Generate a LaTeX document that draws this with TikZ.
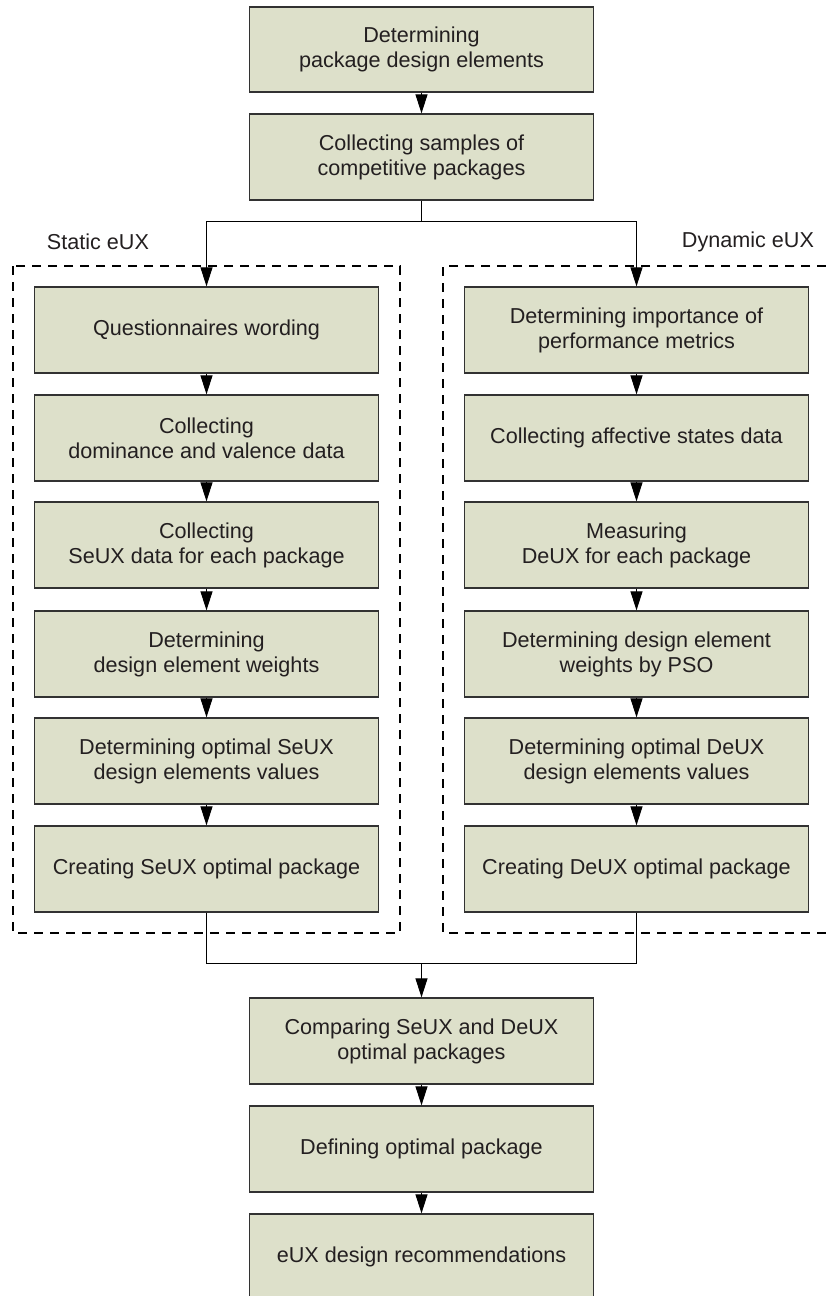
\documentclass[tikz,border=0pt]{standalone}
\usepackage{fontspec}
\setmainfont{Liberation Sans}
\usetikzlibrary{arrows.meta}
\definecolor{boxfill}{RGB}{221,224,202}
\definecolor{boxline}{RGB}{50,50,50}
\definecolor{txt}{RGB}{35,31,32}
\tikzset{
  x=1pt, y=-1pt,
  stepbox/.style={draw=boxline, line width=1.3pt, fill=boxfill, text=txt,
    minimum width=344pt, minimum height=86pt, inner sep=0pt, align=center,
    font=\fontsize{21.6pt}{25pt}\selectfont},
  flow/.style={draw=black, line width=1pt, -{Triangle[length=19pt,width=12pt]}},
  link/.style={draw=black, line width=1pt},
  groupline/.style={draw=black, line width=1.5pt, dash pattern=on 9pt off 7pt},
  grouplabel/.style={text=txt, font=\fontsize{21.6pt}{25pt}\selectfont, inner sep=0pt}
}
\begin{document}
\begin{tikzpicture}
\useasboundingbox (0,0) rectangle (825,1296);
% group frames
\draw[groupline] (13,266) rectangle (400,933);
\draw[groupline] (826,266) -- (443,266) -- (443,933) -- (826,933);
\node[grouplabel] (lstatic) at (98,242) {Static eUX};
\node[grouplabel] (ldynamic) at (748,242) {Dynamic eUX};
% top boxes
\node[stepbox, minimum height=85pt] (t1) at (421.5,49.5) {Determining\\package design elements};
\node[stepbox] (t2) at (421.5,157) {Collecting samples of\\competitive packages};
% left column
\node[stepbox] (l1) at (206.5,330) {Questionnaires wording};
\node[stepbox] (l2) at (206.5,438) {Collecting\\dominance and valence data};
\node[stepbox] (l3) at (206.5,545) {Collecting\\SeUX data for each package};
\node[stepbox] (l4) at (206.5,654) {Determining\\design element weights};
\node[stepbox] (l5) at (206.5,761) {Determining optimal SeUX\\design elements values};
\node[stepbox] (l6) at (206.5,869) {Creating SeUX optimal package};
% right column
\node[stepbox] (r1) at (636.5,330) {Determining importance of\\performance metrics};
\node[stepbox] (r2) at (636.5,438) {Collecting affective states data};
\node[stepbox] (r3) at (636.5,545) {Measuring\\DeUX for each package};
\node[stepbox] (r4) at (636.5,654) {Determining design element\\weights by PSO};
\node[stepbox] (r5) at (636.5,761) {Determining optimal DeUX\\design elements values};
\node[stepbox] (r6) at (636.5,869) {Creating DeUX optimal package};
% bottom
\node[stepbox] (b1) at (421.5,1041) {Comparing SeUX and DeUX\\optimal packages};
\node[stepbox] (b2) at (421.5,1149) {Defining optimal package};
\node[stepbox] (b3) at (421.5,1257) {eUX design recommendations};
% connectors
\draw[flow] (t1) -- (t2);
\coordinate (split) at (421.5,221);
\draw[link] (t2.south) -- (split);
\draw[flow] (split) -| (l1.north);
\draw[flow] (split) -| (r1.north);
\draw[flow] (l1) -- (l2);
\draw[flow] (l2) -- (l3);
\draw[flow] (l3) -- (l4);
\draw[flow] (l4) -- (l5);
\draw[flow] (l5) -- (l6);
\draw[flow] (r1) -- (r2);
\draw[flow] (r2) -- (r3);
\draw[flow] (r3) -- (r4);
\draw[flow] (r4) -- (r5);
\draw[flow] (r5) -- (r6);
\coordinate (merge) at (421.5,963);
\draw[link] (l6.south) |- (merge);
\draw[link] (r6.south) |- (merge);
\draw[flow] (merge) -- (b1.north);
\draw[flow] (b1) -- (b2);
\draw[flow] (b2) -- (b3);
\end{tikzpicture}
\end{document}
